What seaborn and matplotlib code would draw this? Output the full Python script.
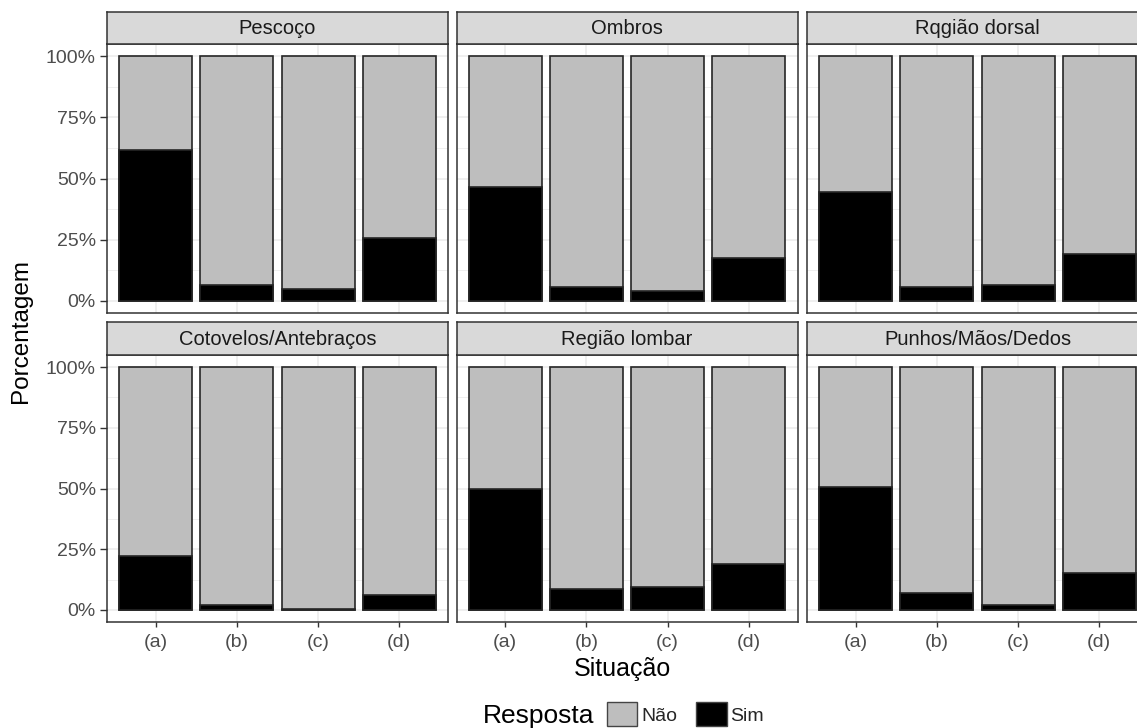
import numpy as np
import pandas as pd
import matplotlib
matplotlib.use("Agg")
import matplotlib.pyplot as plt
import seaborn as sns
from matplotlib.ticker import FixedLocator, FixedFormatter
from matplotlib.patches import Patch

# ---------------- data ----------------
regioes = ["Pescoço", "Ombros", "Rqgião dorsal",
           "Cotovelos/Antebraços", "Região lombar", "Punhos/Mãos/Dedos"]
situacoes = ["(a)", "(b)", "(c)", "(d)"]
respostas = ["Não", "Sim"]

sim_pescoco = [0.616, 0.063, 0.049, 0.255]
sim_ombros = [0.464, 0.055, 0.038, 0.176]
sim_dorsal = [0.444, 0.055, 0.063, 0.190]
sim_cotovelos = [0.221, 0.019, 0.005, 0.063]
sim_lombar = [0.497, 0.085, 0.095, 0.191]
sim_punhos = [0.508, 0.069, 0.022, 0.150]
sim_series = [sim_pescoco, sim_ombros, sim_dorsal,
              sim_cotovelos, sim_lombar, sim_punhos]

yticks = [0, 0.25, 0.5, 0.75, 1.0]
ytick_labels = ["0%", "25%", "50%", "75%", "100%"]
yminor = [0.125, 0.375, 0.625, 0.875]

rows = []
for reg, sims in zip(regioes, sim_series):
    for sit, s in zip(situacoes, sims):
        rows.append({"regiao": reg, "situacao": sit, "resposta": "Sim", "valor": s})
        rows.append({"regiao": reg, "situacao": sit, "resposta": "Não", "valor": 1 - s})
df = pd.DataFrame(rows)
# stacked totals (Não stacked on top of Sim)
tot = df.groupby(["regiao", "situacao"], sort=False)["valor"].sum().reset_index()

# ---------------- style ----------------
sns.set_theme(style="white")
plt.rcParams["font.family"] = ["Liberation Sans", "DejaVu Sans"]

GRAY = "#BEBEBE"
BLACK = "#000000"
EDGE = "#262626"
BORDER = "#333333"
GRID = "#EBEBEB"
STRIP = "#D9D9D9"

W, H = 1137, 728
fig = plt.figure(figsize=(W / 100, H / 100), dpi=100)
fig.patch.set_facecolor("white")

col_x = [107, 456.5, 807]
panel_w = 341
row_strip_top = [12, 322]
row_panel_top = [44, 355]
row_panel_bot = [313, 622]


def fx(px):
    return px / W


def fy(py):
    return 1 - py / H


for i, reg in enumerate(regioes):
    r, c = divmod(i, 3)
    x0 = col_x[c]
    pt, pb = row_panel_top[r], row_panel_bot[r]
    ax = fig.add_axes([fx(x0), fy(pb), panel_w / W, (pb - pt) / H])
    ax.set_facecolor("white")
    ax.set_axisbelow(True)

    sub_tot = tot[tot["regiao"] == reg]
    sub_sim = df[(df["regiao"] == reg) & (df["resposta"] == "Sim")]
    sns.barplot(data=sub_tot, x="situacao", y="valor", order=situacoes,
                color=GRAY, saturation=1, edgecolor=EDGE, linewidth=1.2,
                width=0.9, errorbar=None, ax=ax)
    sns.barplot(data=sub_sim, x="situacao", y="valor", order=situacoes,
                color=BLACK, saturation=1, edgecolor=EDGE, linewidth=1.2,
                width=0.9, errorbar=None, ax=ax)

    ax.set_xlim(-0.6, 3.6)
    ax.set_ylim(-0.05, 1.05)
    ax.set_xlabel("")
    ax.set_ylabel("")
    ax.yaxis.set_major_locator(FixedLocator(yticks))
    ax.yaxis.set_major_formatter(FixedFormatter(ytick_labels))
    ax.yaxis.set_minor_locator(FixedLocator(yminor))
    ax.grid(which="major", axis="both", color=GRID, linewidth=1.1)
    ax.grid(which="minor", axis="y", color=GRID, linewidth=0.55)

    for sp in ax.spines.values():
        sp.set_color(BORDER)
        sp.set_linewidth(1.1)
        sp.set_visible(True)

    ax.tick_params(axis="y", which="minor", left=False, length=0)
    ax.tick_params(axis="y", which="major", direction="out", length=5, width=1,
                   color=BORDER, labelcolor="#4D4D4D", labelsize=14, pad=3,
                   left=(c == 0), labelleft=(c == 0))
    ax.tick_params(axis="x", which="major", direction="out", length=3.5, width=1,
                   color=BORDER, labelcolor="#4D4D4D", labelsize=14, pad=5,
                   bottom=(r == 1), labelbottom=(r == 1))

    # strip
    st = row_strip_top[r]
    sax = fig.add_axes([fx(x0), fy(pt), panel_w / W, (pt - st) / H])
    sax.set_facecolor(STRIP)
    sax.set_xticks([])
    sax.set_yticks([])
    for sp in sax.spines.values():
        sp.set_color(BORDER)
        sp.set_linewidth(1.1)
        sp.set_visible(True)
    sax.text(0.5, 0.47, reg, ha="center", va="center", fontsize=14.5,
             color="#1A1A1A", transform=sax.transAxes)

# axis titles
fig.text(fx(21), fy(331), "Porcentagem", rotation=90, ha="center", va="center",
         fontsize=17.5, color="black")
fig.text(fx(622), fy(669), "Situação", ha="center", va="center",
         fontsize=18, color="black")

# legend
fig.text(fx(483), fy(716), "Resposta", ha="left", va="center",
         fontsize=19, color="black")
handles = [Patch(facecolor=GRAY, edgecolor="#444444", linewidth=1.0),
           Patch(facecolor=BLACK, edgecolor="#444444", linewidth=1.0)]
fig.legend(handles, respostas, loc="upper left",
           bbox_to_anchor=(fx(607), fy(702)), ncol=2, frameon=False,
           fontsize=14, handlelength=1.55, handleheight=1.55,
           handletextpad=0.2, columnspacing=1.0, borderpad=0,
           borderaxespad=0)

fig.savefig("out.png", dpi=100)
